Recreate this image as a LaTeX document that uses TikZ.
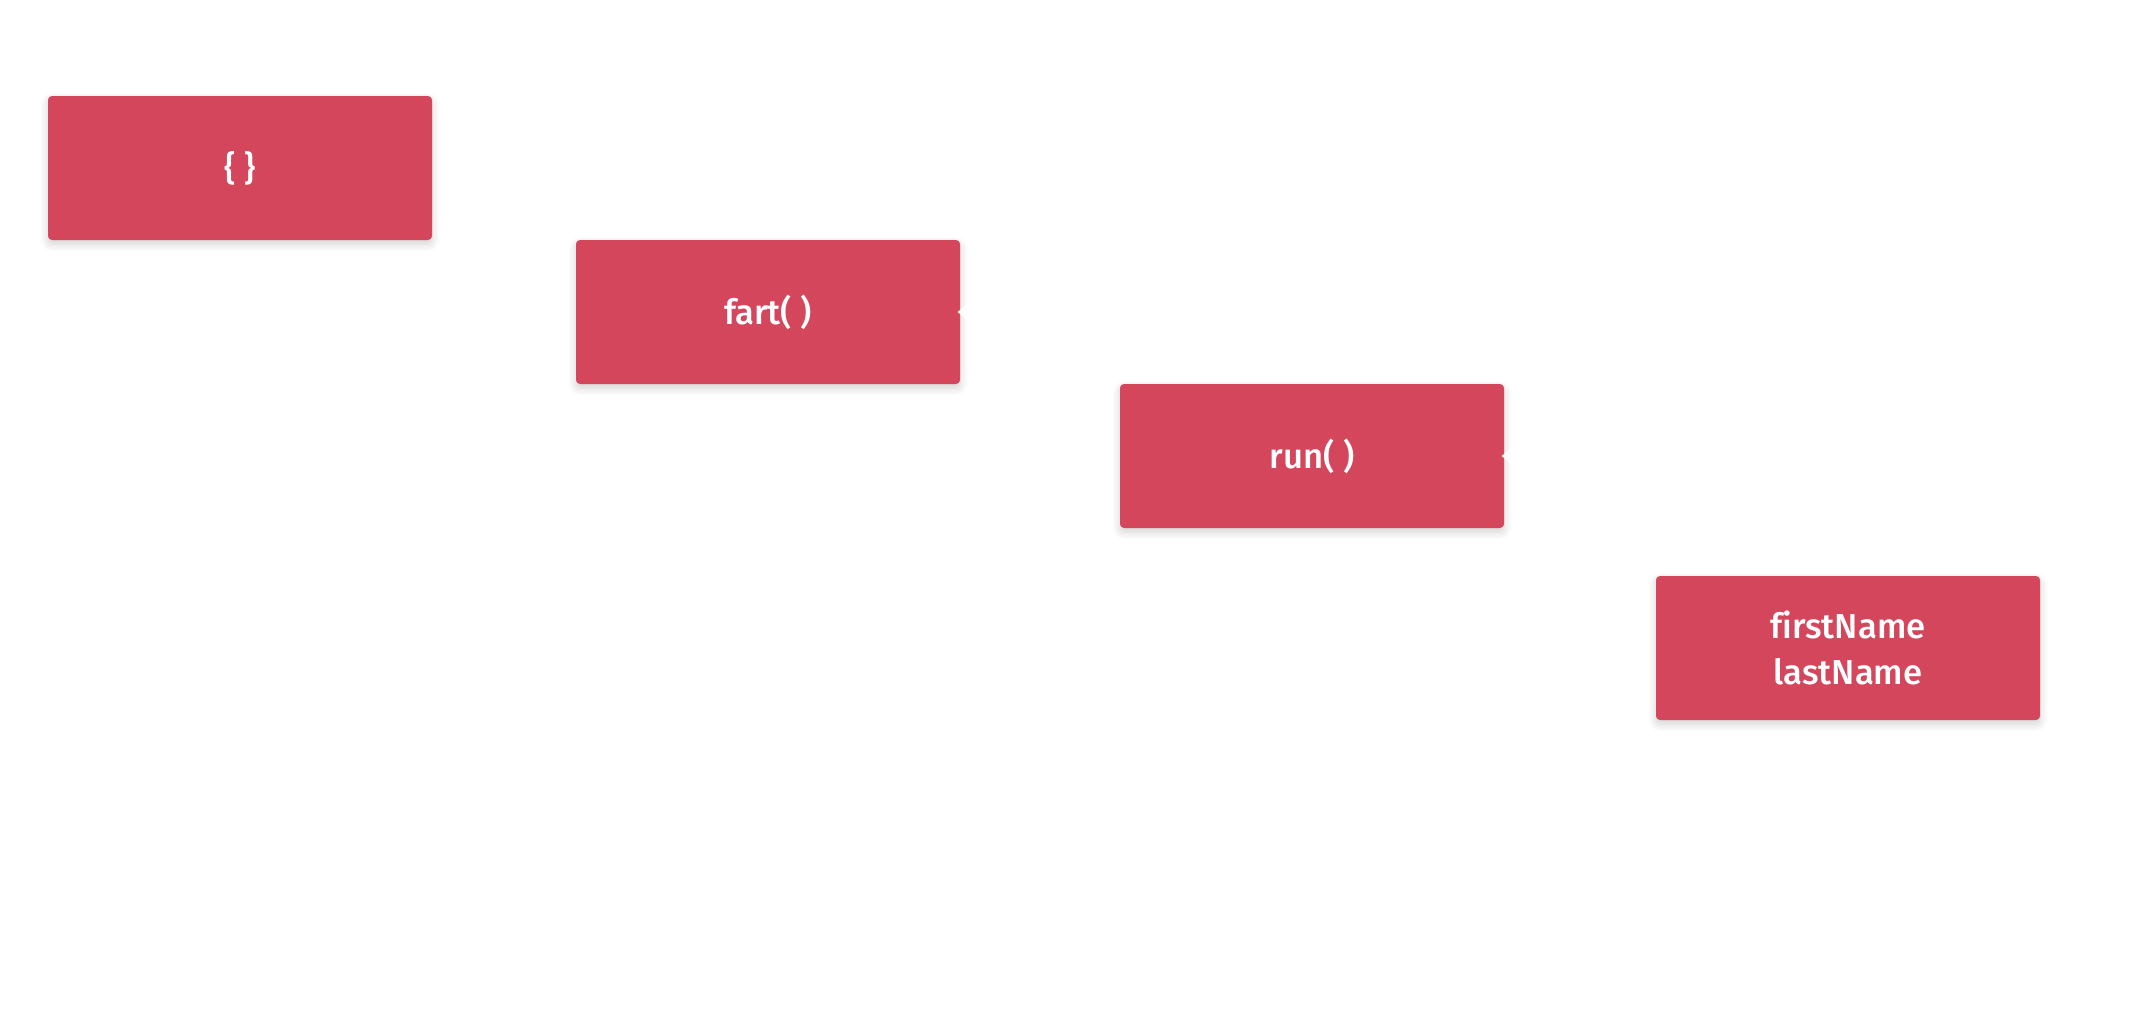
\documentclass[tikz,border=0pt]{standalone}
\usepackage{fontspec}
\setmainfont{Fira Sans Medium}[Ligatures=NoCommon]
\usetikzlibrary{shadows.blur}
\definecolor{boxred}{RGB}{211,70,92}
\tikzset{
  objbox/.style={fill=boxred, rounded corners=3pt, minimum width=288pt, minimum height=108pt,
    text=white, font=\fontsize{26}{35}\selectfont, align=center, inner sep=0pt,
    blur shadow={shadow xshift=0pt, shadow yshift=-3pt, shadow blur steps=8, shadow opacity=18, shadow blur radius=6pt}},
  notch/.style={fill=white, draw=none}
}
\begin{document}
\begin{tikzpicture}[x=0.75pt,y=0.75pt,yscale=-1,xscale=1]
\useasboundingbox (0,0) rectangle (2150,1032);

% Text Node
\node [objbox] (obj) at (240,168) {\{ \}};
% Text Node
\node [objbox] (fart) at (768,312) {fart( )};
% Text Node
\node [objbox] (run) at (1312,456) {run( )};
% Text Node
\node [objbox] (names) at (1848,648) {firstName\\lastName};

% Notch
\fill [notch] ([xshift=-2pt]fart.east) -- ++(10pt,-8pt) -- ++(0,16pt) -- cycle;
\fill [notch] ([xshift=-2pt]run.east) -- ++(10pt,-8pt) -- ++(0,16pt) -- cycle;

\end{tikzpicture}
\end{document}
